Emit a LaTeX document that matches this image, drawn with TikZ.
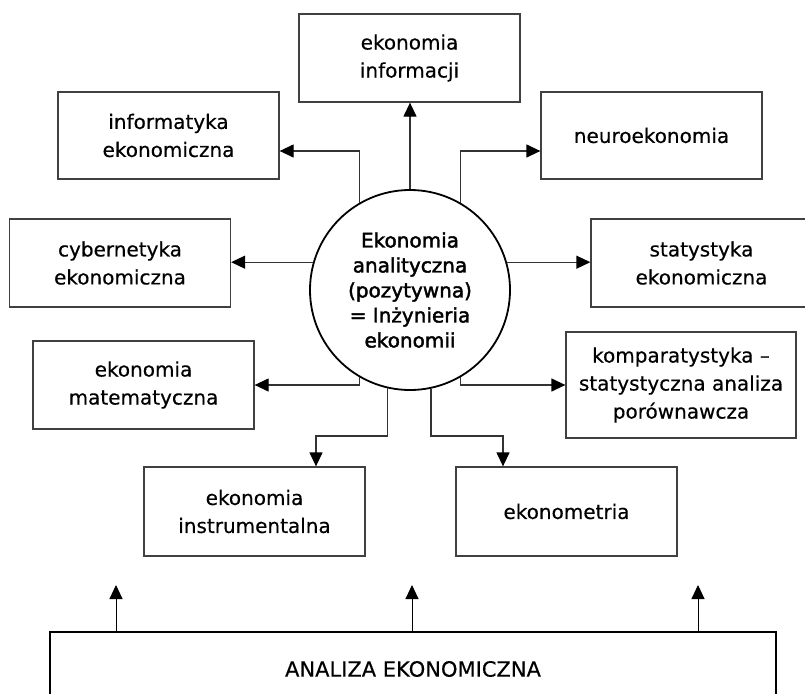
\documentclass[tikz,border=0pt]{standalone}
\usepackage{fontspec}
\setmainfont{DejaVu Sans}[FakeBold=0.4]
\newfontfamily\circfont{DejaVu Sans}[FakeBold=2]
\usetikzlibrary{arrows.meta,calc}
\begin{document}
\begin{tikzpicture}[x=1pt,y=-1pt,
  box/.style={draw=black!75,line width=1.3pt,minimum width=221pt,minimum height=88pt,
    align=center,inner sep=0pt,font=\fontsize{20}{28}\selectfont},
  arr/.style={draw=black!80,line width=1.3pt,-{Triangle[length=14pt,width=13pt,color=black]}},
  uparr/.style={draw=black,line width=1pt,-{Triangle[length=14pt,width=13pt]}},
]
\useasboundingbox (0,0) rectangle (805,693);
\fill[white] (0,0) rectangle (805,693);

\node[box] (info) at (409.5,58) {ekonomia\\informacji};
\node[box,minimum height=87pt] (inf) at (168.5,135.5) {informatyka\\ekonomiczna};
\node[box,minimum height=87pt] (neuro) at (651.5,135.5) {neuroekonomia};
\node[box] (cyb) at (120,263) {cybernetyka\\ekonomiczna};
\node[box] (stat) at (701.5,263) {statystyka\\ekonomiczna};
\node[box] (mat) at (143.5,385) {ekonomia\\matematyczna};
\node[box,minimum width=230pt,minimum height=106pt] (komp) at (681,385) {komparatystyka –\\statystyczna analiza\\porównawcza};
\node[box,minimum height=89pt] (instr) at (254.5,511.5) {ekonomia\\instrumentalna};
\node[box,minimum height=89pt] (ekm) at (566.5,511.5) {ekonometria};

\node[circle,draw=black,line width=1.8pt,minimum size=200pt,inner sep=0pt,align=center,
  font=\circfont\fontsize{20}{25}\selectfont] (circ) at (410,290)
  {Ekonomia\\analityczna\\(pozytywna)\\= Inżynieria\\ekonomii};

\node[draw=black,line width=2pt,minimum width=726pt,minimum height=74pt,inner sep=0pt,
  font=\fontsize{21}{24}\selectfont] (an) at (413,669) {ANALIZA EKONOMICZNA};

\draw[arr] (circ.north) -- (circ.north |- info.south);
\draw[arr] (circ.120) |- ([yshift=-15.5pt]inf.east);
\draw[arr] (circ.60) |- ([yshift=-15.5pt]neuro.west);
\draw[arr] (circ.164) -- (circ.164 -| cyb.east);
\draw[arr] (circ.16) -- (circ.16 -| stat.west);
\draw[arr] (circ.240) |- (mat.east);
\draw[arr] (circ.300) |- (komp.west);
\coordinate (bl) at (316,436);
\coordinate (br) at (503,436);
\draw[arr] (circ.257) |- (bl) -- (bl |- instr.north);
\draw[arr] (circ.282) |- (br) -- (br |- ekm.north);

\coordinate (u1) at (116,585);
\coordinate (u2) at (412,585);
\coordinate (u3) at (698,585);
\foreach \u in {u1,u2,u3} \draw[uparr] (\u |- an.north) -- (\u);
\end{tikzpicture}
\end{document}
